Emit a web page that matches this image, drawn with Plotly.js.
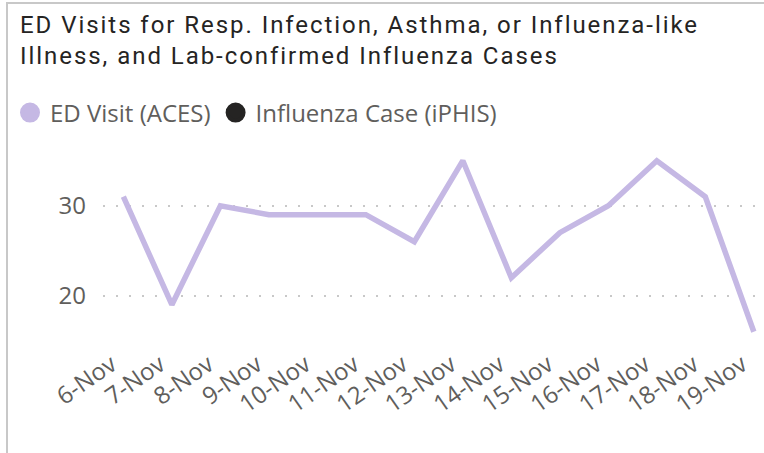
<!DOCTYPE html>
<html>
<head>
<meta charset="utf-8">
<script src="https://cdn.plot.ly/plotly-3.0.1.min.js"></script>
<style>
  html, body { margin: 0; padding: 0; background: #fff; }
  #wrap { position: relative; width: 764px; height: 453px; overflow: hidden; }
  #chart { width: 764px; height: 453px; }
  #frame { position: absolute; left: 6px; top: 2px; width: 764px; height: 460px;
           border-left: 2px solid #C8C8C8; border-top: 2px solid #C8C8C8; pointer-events: none; }
  .gtitle { letter-spacing: 1.95px; }
</style>
</head>
<body>
<div id="wrap">
  <div id="chart"></div>
  <div id="frame"></div>
</div>
<script>
const dates = ["6-Nov","7-Nov","8-Nov","9-Nov","10-Nov","11-Nov","12-Nov","13-Nov","14-Nov","15-Nov","16-Nov","17-Nov","18-Nov","19-Nov"];
const edVisits = [31, 19, 30, 29, 29, 29, 26, 35, 22, 27, 30, 35, 31, 16];
const influenzaCases = [];
const yTicks = [20, 30];

const lineColor = "#C5B8E4";
const textGrey = "#605E5C";

const traces = [
  {
    type: "scatter", mode: "lines", x: dates, y: edVisits,
    line: { color: lineColor, width: 5.5 }, cliponaxis: false,
    name: "ED Visit (ACES)", showlegend: false, hoverinfo: "x+y"
  },
  {
    type: "scatter", mode: "markers", x: [null], y: [null],
    marker: { color: lineColor, size: 16, symbol: "circle", line: { color: lineColor, width: 4 } },
    name: "ED Visit (ACES)", showlegend: true
  },
  {
    type: "scatter", mode: "markers",
    x: influenzaCases.length ? dates : [null],
    y: influenzaCases.length ? influenzaCases : [null],
    marker: { color: "#252423", size: 16, symbol: "circle", line: { color: "#252423", width: 4 } },
    name: "Influenza Case (iPHIS)", showlegend: true
  }
];

const layout = {
  width: 764, height: 453,
  margin: { l: 103, r: 0, t: 140, b: 112 },
  paper_bgcolor: "#fff", plot_bgcolor: "#fff",
  font: { family: "Open Sans, sans-serif", color: textGrey },
  title: {
    text: "ED Visits for Resp. Infection, Asthma, or Influenza-like<br>Illness, and Lab-confirmed Influenza Cases",
    font: { family: "Roboto, sans-serif", size: 24, color: "#252423" },
    x: 20 / 764, xanchor: "left", xref: "container",
    y: 1 - 33 / 453, yanchor: "top", yref: "container"
  },
  showlegend: true,
  legend: {
    orientation: "h", xref: "container", yref: "container",
    x: 10 / 764, xanchor: "left", y: 1 - 113 / 453, yanchor: "middle",
    font: { family: "Open Sans, sans-serif", size: 24, color: textGrey },
    itemwidth: 30, tracegroupgap: 0, bgcolor: "rgba(0,0,0,0)"
  },
  xaxis: {
    type: "category", range: [-0.42, 13.21],
    showgrid: false, zeroline: false, showline: false, ticks: "",
    tickangle: -35, ticklabelshift: -12, ticklabelstandoff: 4,
    tickfont: { family: "Open Sans, sans-serif", size: 24, color: textGrey },
    fixedrange: true
  },
  yaxis: {
    range: [14.97, 37.3], tickvals: yTicks, ticktext: yTicks.map(String),
    showgrid: true, gridcolor: "#C8C8C8", gridwidth: 2, griddash: "2px,11px",
    zeroline: false, showline: false, ticks: "",
    ticklabelstandoff: 16,
    tickfont: { family: "Open Sans, sans-serif", size: 24, color: textGrey },
    fixedrange: true
  }
};

Plotly.newPlot("chart", traces, layout, { displayModeBar: false, staticPlot: true });
</script>
</body>
</html>
